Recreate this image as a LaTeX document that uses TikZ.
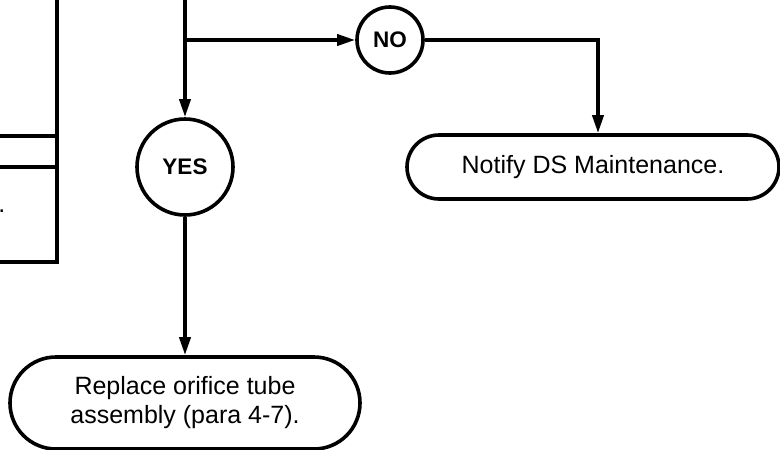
\documentclass[tikz,border=0pt]{standalone}
\usepackage{fontspec}
\setmainfont{Liberation Sans}
\usetikzlibrary{arrows.meta}
\begin{document}
\begin{tikzpicture}[x=1pt,y=-1pt,
  line width=3.6pt,
  conn/.style={-{Triangle[length=18pt,width=11pt]}},
  circ/.style={draw,circle,inner sep=0pt,font=\fontsize{22.5}{26}\selectfont\bfseries},
  term/.style={draw,rectangle,inner sep=0pt,align=center,font=\fontsize{25}{29}\selectfont}]
\useasboundingbox (0,0) rectangle (780,450);
% left box (cut off)
\draw (57,0) -- (57,262) -- (0,262);
\draw (0,136) -- (57,136);
\draw (0,167) -- (57,167);
\node[anchor=base east,inner sep=0pt,font=\fontsize{25}{29}\selectfont] (dot) at (7,212) {.};
% nodes
\node[circ,minimum size=96pt] (yes) at (185,167) {YES};
\node[circ,minimum size=66pt] (no) at (390,40) {NO};
\node[term,minimum width=372pt,minimum height=64pt,rounded corners=32pt] (notify) at (593,167) {Notify DS Maintenance.};
\node[term,minimum width=350pt,minimum height=92pt,rounded corners=46pt] (replace) at (185,403) {Replace orifice tube\\assembly (para 4-7).};
% connectors
\coordinate (top) at (185,0);
\coordinate (br) at (185,40);
\draw[conn] (top) -- (yes);
\draw[conn] (br) -- (no);
\draw[conn] (no.east) -| ([xshift=5pt]notify.north);
\draw[conn] (yes) -- (replace);
\end{tikzpicture}
\end{document}
